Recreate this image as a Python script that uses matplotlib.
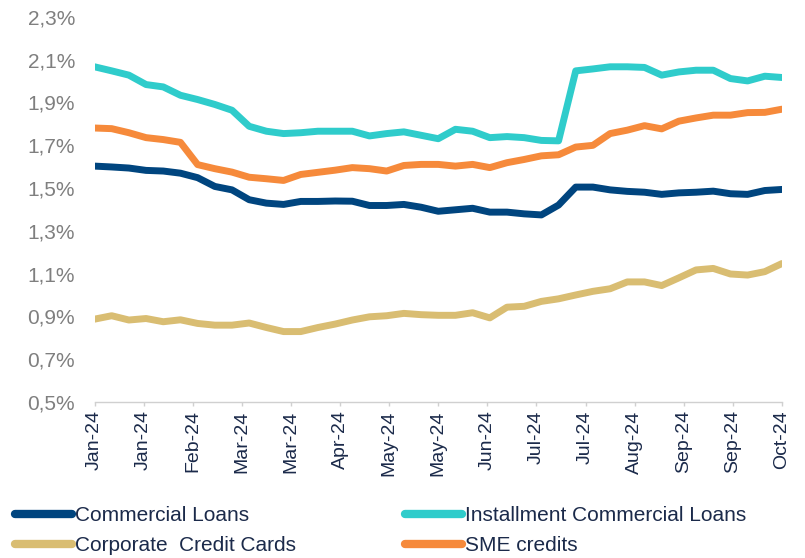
import numpy as np
import pandas as pd
import matplotlib
matplotlib.use("Agg")
import matplotlib.pyplot as plt
import matplotlib.dates as mdates
from matplotlib.ticker import FuncFormatter, FixedLocator

plt.rcParams['font.family'] = ['Liberation Sans', 'DejaVu Sans']

# weekly observations, Jan 5 2024 -> Oct 11 2024
dates = pd.date_range('2024-01-05', periods=41, freq='7D')

commercial = [1.602, 1.598, 1.593, 1.582, 1.579, 1.569, 1.548, 1.507, 1.491, 1.445,
              1.429, 1.423, 1.437, 1.437, 1.439, 1.438, 1.418, 1.418, 1.423, 1.410,
              1.391, 1.398, 1.405, 1.387, 1.387, 1.379, 1.374, 1.420, 1.504, 1.504,
              1.491, 1.484, 1.480, 1.470, 1.477, 1.480, 1.485, 1.473, 1.470, 1.488,
              1.493]
installment = [2.066, 2.047, 2.027, 1.983, 1.972, 1.933, 1.913, 1.890, 1.863, 1.788,
               1.765, 1.754, 1.758, 1.765, 1.765, 1.765, 1.743, 1.754, 1.762, 1.746,
               1.730, 1.774, 1.765, 1.735, 1.740, 1.735, 1.722, 1.720, 2.047, 2.056,
               2.066, 2.066, 2.063, 2.027, 2.042, 2.050, 2.050, 2.011, 2.000, 2.022,
               2.016]
credit_cards = [0.887, 0.903, 0.883, 0.890, 0.875, 0.884, 0.867, 0.859, 0.859, 0.869,
                0.848, 0.829, 0.829, 0.848, 0.864, 0.883, 0.898, 0.903, 0.914, 0.908,
                0.905, 0.905, 0.917, 0.893, 0.943, 0.947, 0.970, 0.982, 1.000, 1.017,
                1.029, 1.061, 1.061, 1.044, 1.080, 1.117, 1.124, 1.098, 1.093, 1.109,
                1.147]
sme = [1.780, 1.777, 1.758, 1.735, 1.726, 1.713, 1.609, 1.590, 1.574, 1.550,
       1.543, 1.535, 1.563, 1.573, 1.583, 1.595, 1.590, 1.579, 1.605, 1.610,
       1.610, 1.602, 1.610, 1.595, 1.618, 1.633, 1.650, 1.655, 1.691, 1.699,
       1.754, 1.770, 1.791, 1.776, 1.812, 1.827, 1.840, 1.840, 1.852, 1.853,
       1.868]

y_ticks = [0.5, 0.7, 0.9, 1.1, 1.3, 1.5, 1.7, 1.9, 2.1, 2.3]
tick_dates = pd.date_range('2024-01-05', '2024-10-11', freq='20D')

fig = plt.figure(figsize=(8.05, 5.58), dpi=100)
ax = fig.add_axes([94.5 / 805, 1 - 402 / 558, (782 - 94.5) / 805, (402 - 16.7) / 558])

navy = '#00457f'
teal = '#2fcccb'
gold = '#d9bd72'
orange = '#f68a3b'

l1, = ax.plot(dates, commercial, color=navy, lw=5, solid_capstyle='round', solid_joinstyle='round')
l2, = ax.plot(dates, installment, color=teal, lw=5, solid_capstyle='round', solid_joinstyle='round')
l3, = ax.plot(dates, credit_cards, color=gold, lw=5, solid_capstyle='round', solid_joinstyle='round')
l4, = ax.plot(dates, sme, color=orange, lw=5, solid_capstyle='round', solid_joinstyle='round')

ax.set_xlim(dates[0], dates[-1])
ax.set_ylim(0.5, 2.3)
ax.yaxis.set_major_locator(FixedLocator(y_ticks))
ax.yaxis.set_major_formatter(FuncFormatter(lambda v, p: f"{v:.1f}%".replace('.', ',')))
ax.xaxis.set_major_locator(FixedLocator(mdates.date2num(tick_dates)))
ax.xaxis.set_major_formatter(mdates.DateFormatter('%b-%y'))

for s in ['top', 'right', 'left']:
    ax.spines[s].set_visible(False)
ax.spines['bottom'].set_color('#d0d0d0')
ax.spines['bottom'].set_linewidth(1)
ax.tick_params(axis='y', length=0, pad=14, labelsize=15, labelcolor='#7f7f7f')
ax.tick_params(axis='x', length=3, width=1, color='#d0d0d0', pad=3,
               labelsize=14, labelcolor='#1b2a4a', labelrotation=90)

leg = fig.legend([l1, l3, l2, l4],
                 ['Commercial Loans', 'Corporate  Credit Cards',
                  'Installment Commercial Loans', 'SME credits'],
                 ncol=2, loc='upper left', bbox_to_anchor=(15 / 805, 1 - 506 / 558),
                 frameon=False, fontsize=15, handlelength=2.75, handletextpad=0.15,
                 columnspacing=5.2, labelspacing=0.55, borderpad=0, borderaxespad=0)
for t in leg.get_texts():
    t.set_color('#1b2a4a')
for h in leg.get_lines():
    h.set_linewidth(6)
    h.set_solid_capstyle('round')

fig.savefig('out.png', dpi=100)
